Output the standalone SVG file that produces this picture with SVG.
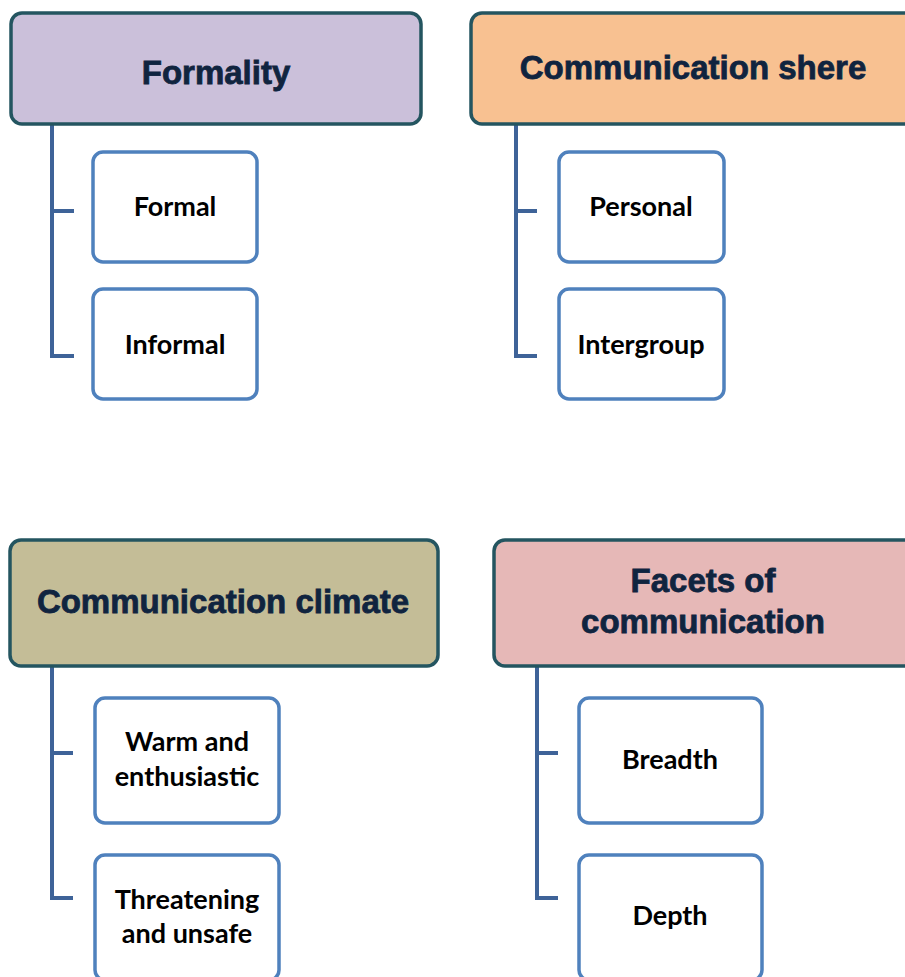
<svg xmlns="http://www.w3.org/2000/svg" width="905" height="977" viewBox="0 0 905 977">
<style>
.hdr{stroke:#245560;stroke-width:3.5}
.ht{font-family:"Liberation Sans",Arial,sans-serif;font-weight:bold;font-size:33px;fill:#10243f;stroke:#10243f;stroke-width:0.8;text-anchor:middle}
.child{fill:#ffffff;stroke:#4f81bd;stroke-width:3.5}
.ct{font-family:Lato,"Liberation Sans",sans-serif;font-weight:bold;font-size:27px;fill:#000000;text-anchor:middle}
.conn{fill:none;stroke:#3e6398;stroke-width:4}
</style>
<rect width="905" height="977" fill="#ffffff"/>
<g id="connectors">
<path class="conn" d="M52 125 V356 H74 M52 211 H74"/>
<path class="conn" d="M516 125 V356 H537 M516 211 H537"/>
<path class="conn" d="M52 667 V898 H73 M52 753 H73"/>
<path class="conn" d="M537 667 V898 H558 M537 753 H558"/>
</g>
<g id="formality">
<rect class="hdr" x="11" y="13" width="410" height="111" rx="11" fill="#cbc0da"/>
<text class="ht" x="216" y="84">Formality</text>
</g>
<g id="formal">
<rect class="child" x="93" y="152" width="164" height="110" rx="10"/>
<text class="ct" x="175" y="216">Formal</text>
</g>
<g id="informal">
<rect class="child" x="93" y="289" width="164" height="110" rx="10"/>
<text class="ct" x="175" y="354">Informal</text>
</g>
<g id="sphere">
<rect class="hdr" x="471" y="13" width="450" height="111" rx="11" fill="#f8c191"/>
<text class="ht" x="693" y="79">Communication shere</text>
</g>
<g id="personal">
<rect class="child" x="559" y="152" width="165" height="110" rx="10"/>
<text class="ct" x="641" y="216">Personal</text>
</g>
<g id="intergroup">
<rect class="child" x="559" y="289" width="165" height="110" rx="10"/>
<text class="ct" x="641" y="354">Intergroup</text>
</g>
<g id="climate">
<rect class="hdr" x="10" y="540" width="428" height="126" rx="11" fill="#c4bd97"/>
<text class="ht" x="223" y="613">Communication climate</text>
</g>
<g id="warm">
<rect class="child" x="95" y="698" width="184" height="125" rx="10"/>
<text class="ct" x="187" y="751">Warm and</text>
<text class="ct" x="187" y="786">enthusiastic</text>
</g>
<g id="threatening">
<rect class="child" x="95" y="855" width="184" height="125" rx="10"/>
<text class="ct" x="187" y="909">Threatening</text>
<text class="ct" x="187" y="943">and unsafe</text>
</g>
<g id="facets">
<rect class="hdr" x="494" y="540" width="430" height="126" rx="11" fill="#e6b8b7"/>
<text class="ht" x="703" y="592">Facets of</text>
<text class="ht" x="703" y="633">communication</text>
</g>
<g id="breadth">
<rect class="child" x="579" y="698" width="183" height="125" rx="10"/>
<text class="ct" x="670" y="769">Breadth</text>
</g>
<g id="depth">
<rect class="child" x="579" y="855" width="183" height="125" rx="10"/>
<text class="ct" x="670" y="925">Depth</text>
</g>
</svg>
